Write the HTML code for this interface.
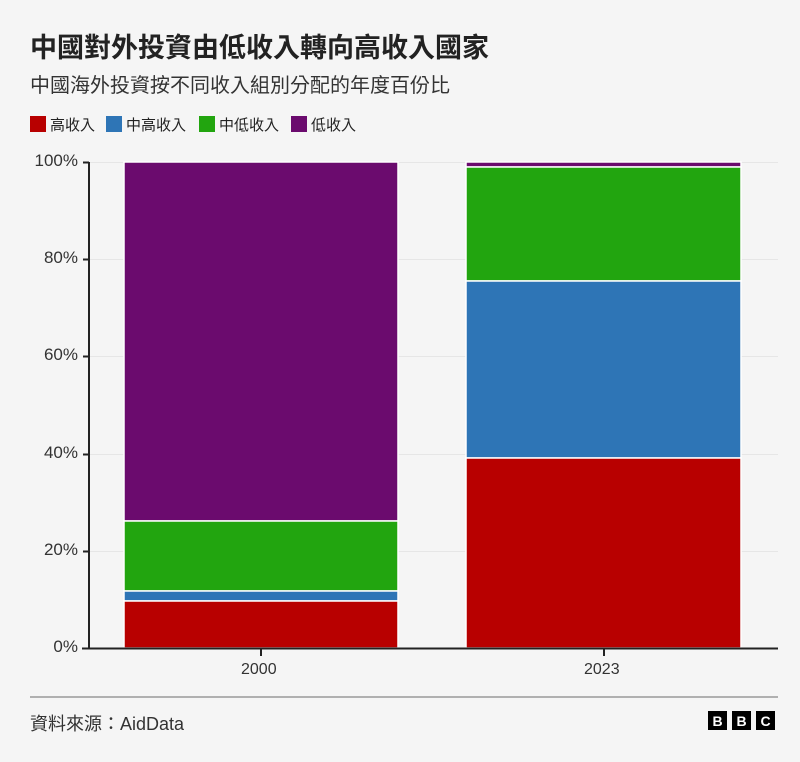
<!DOCTYPE html>
<html><head><meta charset="utf-8"><style>
body{margin:0;width:800px;height:762px;background:#f5f5f5;font-family:"Liberation Sans","Noto Sans CJK TC",sans-serif;color:#222;position:relative;overflow:hidden}
.a{position:absolute;white-space:nowrap}
.sq{position:absolute;width:16px;height:16px}
.yl{position:absolute;right:722px;font-size:17px;color:#333;line-height:16px}
.bar{position:absolute}
</style></head><body>
<div class="a" style="left:30px;top:26px;font-size:27px;font-weight:bold;color:#222">中國對外投資由低收入轉向高收入國家</div>
<div class="a" style="left:30px;top:69px;font-size:20px;color:#333">中國海外投資按不同收入組別分配的年度百份比</div>
<div class="sq" style="left:30px;top:116px;background:#b80000"></div><div class="a" style="left:50px;top:114px;font-size:15px">高收入</div>
<div class="sq" style="left:106px;top:116px;background:#2e75b6"></div><div class="a" style="left:126px;top:114px;font-size:15px">中高收入</div>
<div class="sq" style="left:199px;top:116px;background:#22a50f"></div><div class="a" style="left:219px;top:114px;font-size:15px">中低收入</div>
<div class="sq" style="left:291px;top:116px;background:#6b0b6e"></div><div class="a" style="left:311px;top:114px;font-size:15px">低收入</div>
<svg class="a" style="left:0;top:0" width="800" height="762">
<g stroke="#e6e6e6" stroke-width="1">
<line x1="89" x2="778" y1="162.5" y2="162.5"/><line x1="89" x2="778" y1="259.5" y2="259.5"/><line x1="89" x2="778" y1="356.5" y2="356.5"/><line x1="89" x2="778" y1="454.5" y2="454.5"/><line x1="89" x2="778" y1="551.5" y2="551.5"/>
</g>
<g stroke="#fff" stroke-width="1.5">
<rect x="124" y="162" width="274" height="359" fill="#6b0b6e"/>
<rect x="124" y="521" width="274" height="70" fill="#22a50f"/>
<rect x="124" y="591" width="274" height="10" fill="#2e75b6"/>
<rect x="124" y="601" width="274" height="47" fill="#b80000"/>
<rect x="466" y="162" width="275" height="5" fill="#6b0b6e"/>
<rect x="466" y="167" width="275" height="114" fill="#22a50f"/>
<rect x="466" y="281" width="275" height="177" fill="#2e75b6"/>
<rect x="466" y="458" width="275" height="190" fill="#b80000"/>
</g>
<g stroke="#222" stroke-width="2">
<line x1="89" x2="89" y1="162" y2="649"/><line x1="82" x2="778" y1="648.5" y2="648.5"/>
<line x1="83" x2="89" y1="162.5" y2="162.5"/><line x1="83" x2="89" y1="259.5" y2="259.5"/><line x1="83" x2="89" y1="356.5" y2="356.5"/><line x1="83" x2="89" y1="454.5" y2="454.5"/><line x1="83" x2="89" y1="551.5" y2="551.5"/>
<line x1="261" x2="261" y1="649" y2="656"/><line x1="604" x2="604" y1="649" y2="656"/>
</g>
<line x1="30" x2="778" y1="697" y2="697" stroke="#999" stroke-width="1.5"/>
<g fill="#000"><rect x="708" y="711" width="19" height="19"/><rect x="732" y="711" width="19" height="19"/><rect x="756" y="711" width="19" height="19"/></g>
<g fill="#fff" font-family="Liberation Sans" font-weight="bold" font-size="14" text-anchor="middle"><text x="717.5" y="726">B</text><text x="741.5" y="726">B</text><text x="765.5" y="726">C</text></g>
</svg>
<div class="yl" style="top:153px">100%</div>
<div class="yl" style="top:250px">80%</div>
<div class="yl" style="top:347px">60%</div>
<div class="yl" style="top:445px">40%</div>
<div class="yl" style="top:542px">20%</div>
<div class="yl" style="top:639px">0%</div>
<div class="a" style="left:241px;top:661px;font-size:16px;color:#333">2000</div>
<div class="a" style="left:584px;top:661px;font-size:16px;color:#333">2023</div>
<div class="a" style="left:30px;top:710px;font-size:18px;color:#333">資料來源：AidData</div>
</body></html>
